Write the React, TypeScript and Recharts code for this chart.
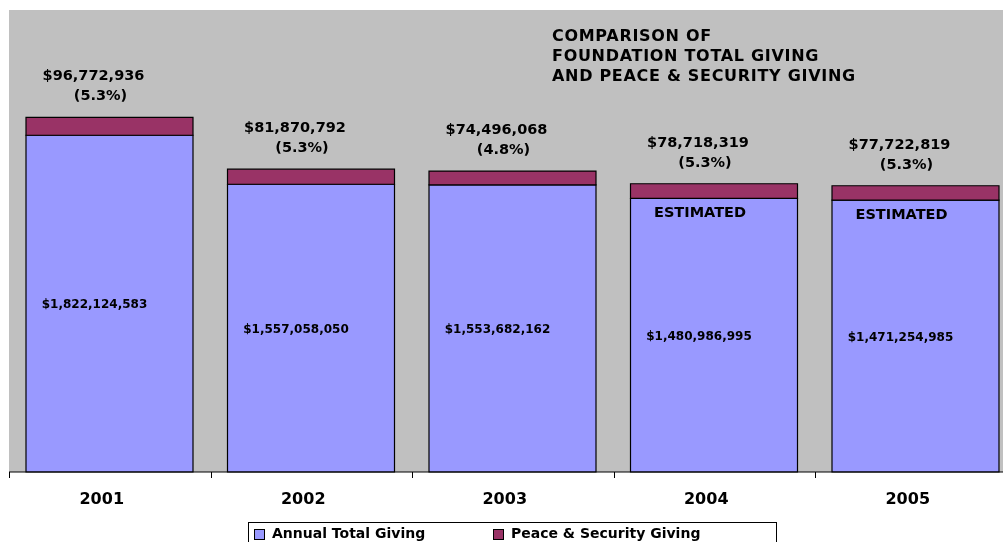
import { Bar, BarChart, CartesianGrid, LabelList, XAxis, YAxis } from "recharts";

// Foundation total giving vs. peace & security giving, 2001-2005 (stacked).

const years = ["2001", "2002", "2003", "2004", "2005"];
const totalGiving = [1822124583, 1557058050, 1553682162, 1480986995, 1471254985];
const peaceGiving = [96772936, 81870792, 74496068, 78718319, 77722819];
const estimated = [false, false, false, true, true];
const titleLines = [
  "COMPARISON OF",
  "FOUNDATION TOTAL GIVING",
  "AND PEACE & SECURITY GIVING",
];

const BLUE = "#9999ff";
const MAROON = "#993366";
const FONT = "'DejaVu Sans', Verdana, sans-serif";
const CAT_W = 201.5;

const data = years.map((year, i) => ({
  year,
  total: totalGiving[i],
  peace: peaceGiving[i],
}));

const money = (v: number) => "$" + v.toLocaleString("en-US");

function YearTick(props: any) {
  const { x, y, payload } = props;
  const tx = Math.round(x - CAT_W / 2) + 0.5;
  return (
    <g>
      <line x1={tx} x2={tx} y1={y} y2={y + 6} stroke="#000" />
      <text
        x={x - 8}
        y={y + 32}
        textAnchor="middle"
        fontFamily={FONT}
        fontWeight="bold"
        fontSize={16}
        fill="#000"
      >
        {payload.value}
      </text>
    </g>
  );
}

function TotalLabel(props: any) {
  const { x, y, width, height, value, index } = props;
  const cx = x + width / 2;
  return (
    <g fontFamily={FONT} fontWeight="bold" fill="#000">
      <text x={cx - 15} y={y + height / 2 + 4.5} textAnchor="middle" fontSize={12}>
        {money(Number(value))}
      </text>
      {estimated[index] && (
        <text x={cx - 14} y={y + 19} textAnchor="middle" fontSize={14.5}>
          ESTIMATED
        </text>
      )}
    </g>
  );
}

function PeaceLabel(props: any) {
  const { x, y, width, value, index } = props;
  const cx = x + width / 2;
  const pct = ((Number(value) / totalGiving[index]) * 100).toFixed(1);
  return (
    <g fontFamily={FONT} fontWeight="bold" fill="#000" fontSize={14.5}>
      <text x={cx - 16} y={y - 37} textAnchor="middle">
        {money(Number(value))}
      </text>
      <text x={cx - 9} y={y - 17} textAnchor="middle">
        ({pct}%)
      </text>
    </g>
  );
}

function LegendBox() {
  const item = (left: number, color: string, label: string) => (
    <>
      <span
        style={{
          position: "absolute",
          left,
          top: 6,
          width: 9,
          height: 9,
          background: color,
          border: "1px solid #000",
        }}
      />
      <span style={{ position: "absolute", left: left + 18, top: 2, whiteSpace: "nowrap" }}>
        {label}
      </span>
    </>
  );
  return (
    <div
      style={{
        position: "absolute",
        left: 240,
        top: 514,
        width: 527,
        height: 30,
        border: "1px solid #000",
        background: "#fff",
        fontFamily: FONT,
        fontWeight: "bold",
        fontSize: 14,
        color: "#000",
      }}
    >
      {item(5, BLUE, "Annual Total Giving")}
      {item(244, MAROON, "Peace & Security Giving")}
    </div>
  );
}

export default function App() {
  return (
    <div
      style={{
        position: "fixed",
        left: 8,
        top: 8,
        width: 995,
        height: 534,
        overflow: "hidden",
      }}
    >
      <BarChart
        width={1017}
        height={534}
        data={data}
        margin={{ top: 2, right: 8.5, bottom: 0, left: 1 }}
      >
        <CartesianGrid horizontal={false} vertical={false} fill="#c0c0c0" stroke="none" />
        <XAxis
          dataKey="year"
          height={70}
          tickLine={false}
          tickSize={0}
          tickMargin={0}
          axisLine={{ stroke: "#000" }}
          tick={<YearTick />}
          interval={0}
        />
        <YAxis hide domain={[0, 2500000000]} />
        <Bar dataKey="total" stackId="a" fill={BLUE} stroke="#000" strokeWidth={1.2} barSize={167} isAnimationActive={false}>
          <LabelList dataKey="total" content={<TotalLabel />} />
        </Bar>
        <Bar dataKey="peace" stackId="a" fill={MAROON} stroke="#000" strokeWidth={1.2} barSize={167} isAnimationActive={false}>
          <LabelList dataKey="peace" content={<PeaceLabel />} />
        </Bar>
        <text fontFamily={FONT} fontWeight="bold" fontSize={16} letterSpacing={0.7} fill="#000">
          {titleLines.map((line, i) => (
            <tspan key={i} x={544} y={33 + i * 20}>
              {line}
            </tspan>
          ))}
        </text>
      </BarChart>
      <LegendBox />
    </div>
  );
}
